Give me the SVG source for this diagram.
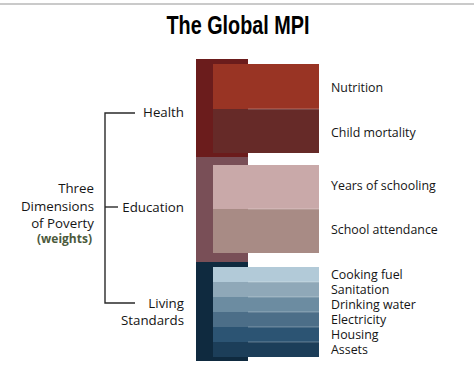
<svg xmlns="http://www.w3.org/2000/svg" width="474" height="379" viewBox="0 0 474 379">
<style>
.lbl{font-family:"Open Sans","Noto Sans","Liberation Sans",sans-serif;font-size:12.4px;fill:#151515}
.dl{font-family:"Open Sans","Noto Sans","Liberation Sans",sans-serif;font-size:13.3px;fill:#151515;text-anchor:end}
.ln{stroke:#2a2a2a;stroke-width:1.4;fill:none}
.hl{stroke:#ffffff;stroke-opacity:0.3;stroke-width:1}
</style>
<rect x="0" y="0" width="474" height="379" fill="#ffffff"/>
<line x1="0" y1="4" x2="474" y2="4" stroke="#b8b8b8" stroke-width="1.5"/>
<g id="title">
<text x="238" y="34" text-anchor="middle" textLength="143" lengthAdjust="spacingAndGlyphs" font-family="'Liberation Sans',Arial,sans-serif" font-weight="bold" font-size="26" fill="#000">The Global MPI</text>
</g>
<g id="health">
<rect x="196" y="59" width="52" height="98" fill="#6b1c1c"/>
<rect x="213" y="64" width="106" height="45" fill="#993424"/>
<rect x="213" y="109" width="106" height="44" fill="#662a28"/>
<line class="hl" x1="248" y1="109" x2="319" y2="109"/>
</g>
<g id="education">
<rect x="196" y="157" width="52" height="105" fill="#794f57"/>
<rect x="213" y="165" width="106" height="44" fill="#c9a9a9"/>
<rect x="213" y="209" width="106" height="44" fill="#a88b85"/>
<line class="hl" x1="248" y1="209" x2="319" y2="209"/>
</g>
<g id="living">
<rect x="196" y="262" width="52" height="99" fill="#0f2a3f"/>
<rect x="213" y="267" width="106" height="15" fill="#b2cad8"/>
<rect x="213" y="282" width="106" height="15" fill="#8fa8b8"/>
<rect x="213" y="297" width="106" height="15" fill="#6c8ca1"/>
<rect x="213" y="312" width="106" height="15" fill="#4c6e88"/>
<rect x="213" y="327" width="106" height="15" fill="#2c5473"/>
<rect x="213" y="342" width="106" height="15" fill="#1c3e59"/>
<line class="hl" x1="248" y1="282" x2="319" y2="282"/>
<line class="hl" x1="248" y1="297" x2="319" y2="297"/>
<line class="hl" x1="248" y1="312" x2="319" y2="312"/>
<line class="hl" x1="248" y1="327" x2="319" y2="327"/>
<line class="hl" x1="248" y1="342" x2="319" y2="342"/>
</g>
<g id="connectors">
<polyline class="ln" points="135,113 105,113 105,303 135,303"/>
<line class="ln" x1="105" y1="207" x2="118" y2="207"/>
</g>
<g id="dimensions">
<text class="dl" x="94" y="193">Three</text>
<text class="dl" x="94" y="210.5">Dimensions</text>
<text class="dl" x="94" y="228">of Poverty</text>
<text x="92" y="243" text-anchor="end" font-family="'Open Sans','Noto Sans','Liberation Sans',sans-serif" font-weight="bold" font-size="12" fill="#4b5a3c">(weights)</text>
</g>
<g id="dim-labels">
<text class="dl" x="184" y="117">Health</text>
<text class="dl" x="184" y="212">Education</text>
<text class="dl" x="184" y="308">Living</text>
<text class="dl" x="184" y="325">Standards</text>
</g>
<g id="indicators">
<text class="lbl" x="331" y="92">Nutrition</text>
<text class="lbl" x="331" y="137">Child mortality</text>
<text class="lbl" x="331" y="190">Years of schooling</text>
<text class="lbl" x="331" y="233.5">School attendance</text>
<text class="lbl" x="331" y="278.5">Cooking fuel</text>
<text class="lbl" x="331" y="293.5">Sanitation</text>
<text class="lbl" x="331" y="308.5">Drinking water</text>
<text class="lbl" x="331" y="323.5">Electricity</text>
<text class="lbl" x="331" y="338.5">Housing</text>
<text class="lbl" x="331" y="353.5">Assets</text>
</g>
</svg>
